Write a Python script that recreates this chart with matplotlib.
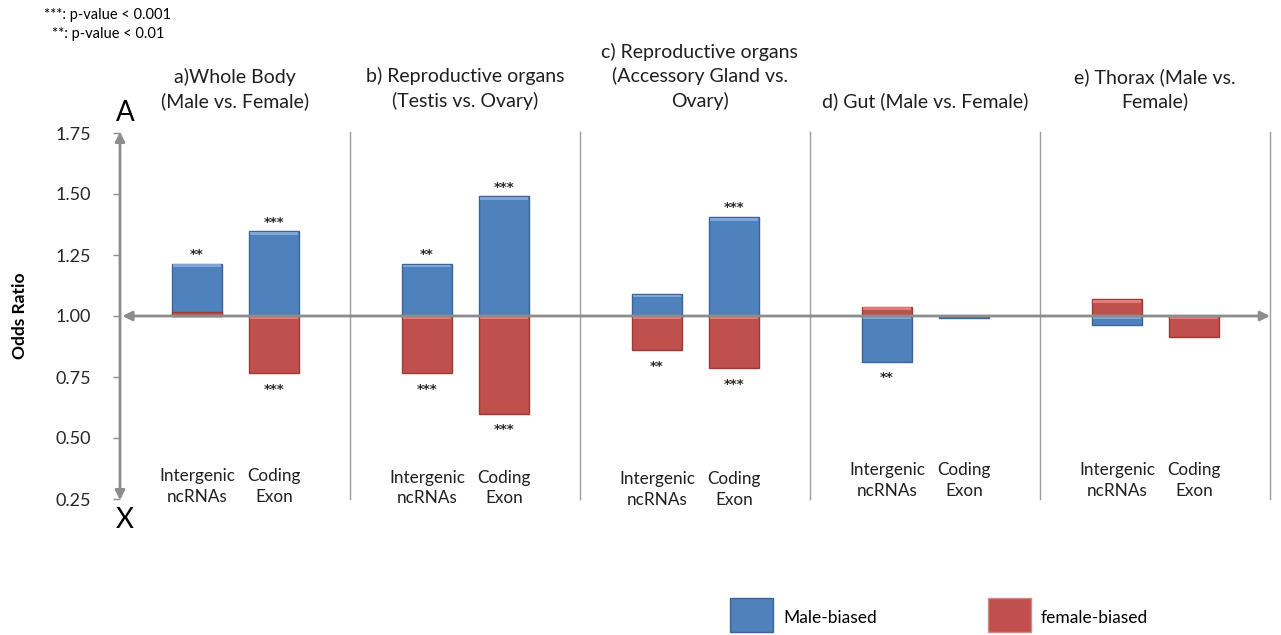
import matplotlib
matplotlib.use("Agg")
import matplotlib.pyplot as plt
from matplotlib.patches import Rectangle

# ---------------- data ----------------
panel_titles = [
    "a)Whole Body\n(Male vs. Female)",
    "b) Reproductive organs\n(Testis vs. Ovary)",
    "c) Reproductive organs\n(Accessory Gland vs.\nOvary)",
    "d) Gut (Male vs. Female)",
    "e) Thorax (Male vs.\nFemale)",
]
categories = ["Intergenic\nncRNAs", "Coding\nExon"]
male_or = [1.215, 1.347, 1.213, 1.490, 1.090, 1.405, 0.813, 0.990, 0.963, 0.990]
female_or = [1.015, 0.767, 0.767, 0.600, 0.860, 0.787, 1.038, 1.000, 1.068, 0.915]
male_sig = ["**", "***", "**", "***", "", "***", "**", "", "", ""]
female_sig = ["", "***", "***", "***", "**", "***", "", "", "", ""]
yticks = [0.25, 0.50, 0.75, 1.00, 1.25, 1.50, 1.75]
ytick_labels = ["0.25", "0.50", "0.75", "1.00", "1.25", "1.50", "1.75"]
legend_labels = ["Male-biased", "female-biased"]

# ---------------- style ----------------
FONT = "Lato"
BLUE = "#4F81BD"
BLUE_EDGE = "#3B6597"
RED = "#C0504D"
RED_EDGE = "#9A3B38"
GRAY = "#8C8C8C"

fig = plt.figure(figsize=(12.81, 6.35), dpi=100)
ax = fig.add_axes([120 / 1281, 1 - 499 / 635, 1150 / 1281, 366 / 635])
ax.set_xlim(0, 5)
ax.set_ylim(0.25, 1.75)
for s in ax.spines.values():
    s.set_visible(False)
ax.set_xticks([])
ax.set_yticks(yticks)
ax.set_yticklabels(ytick_labels, fontsize=13, family=FONT, color="#262626")
ax.tick_params(axis="y", length=5, width=1, color=GRAY, pad=16)
ax.set_ylabel("Odds Ratio", fontsize=12.5, fontweight="bold", family=FONT)
ax.yaxis.set_label_coords(-0.08, 0.5)

offsets = [0.335, 0.67]
width = 0.218
xs = []
for p in range(len(panel_titles)):
    for o in offsets:
        xs.append(p + o)

# bars
ax.bar(xs, [m - 1 for m in male_or], bottom=1, width=width, color=BLUE,
       edgecolor=BLUE_EDGE, linewidth=1, zorder=2)
ax.bar(xs, [f - 1 for f in female_or], bottom=1, width=width, color=RED,
       edgecolor=RED_EDGE, linewidth=1, zorder=3)

# bevel highlight strips
for x, m, f in zip(xs, male_or, female_or):
    for v, col in ((m, "#7FA6D6"), (f, "#E07B78")):
        if abs(v - 1) > 0.03:
            top = max(v, 1)
            ax.add_patch(Rectangle((x - width / 2 + 0.006, top - 0.014), width - 0.012, 0.011,
                                   color=col, zorder=4, lw=0))

# significance stars
def star(x, v, s):
    if not s:
        return
    if v >= 1:
        ax.annotate(s, (x, v), xytext=(0, 2), textcoords="offset points",
                    ha="center", va="bottom", fontsize=9.5, family="DejaVu Sans",
                    fontweight="bold", color="#2A2A2A")
    else:
        ax.annotate(s, (x, v), xytext=(0, -7), textcoords="offset points",
                    ha="center", va="top", fontsize=9.5, family="DejaVu Sans",
                    fontweight="bold", color="#2A2A2A")

for x, m, f, ms, fs in zip(xs, male_or, female_or, male_sig, female_sig):
    star(x, m, ms)
    star(x, f, fs)

# axes lines with arrows
ax.annotate("", xy=(0, 1.755), xytext=(0, 0.245), annotation_clip=False,
            arrowprops=dict(arrowstyle="<|-|>", color=GRAY, lw=2, mutation_scale=14,
                            shrinkA=0, shrinkB=0), zorder=5)
ax.annotate("", xy=(5.0, 1.0), xytext=(0.01, 1.0), annotation_clip=False,
            arrowprops=dict(arrowstyle="<|-|>", color=GRAY, lw=2, mutation_scale=14,
                            shrinkA=0, shrinkB=0), zorder=5)

# panel separators
for p in range(1, len(panel_titles) + 1):
    ax.plot([p, p], [1.755, 0.25], color="#9E9E9E", lw=1, zorder=1, clip_on=False)

# panel titles
for p, t in enumerate(panel_titles):
    ax.text(p + 0.5 + (0.02 if p == 2 else 0), 1.843, t, ha="center", va="bottom",
            fontsize=14, family=FONT, color="#1F1F1F", linespacing=1.45, clip_on=False)

# category labels
label_y = [0.30, 0.295, 0.29, 0.325, 0.325]
for p in range(len(panel_titles)):
    for i, c in enumerate(categories):
        ax.text(p + offsets[i], label_y[p], c, ha="center", va="center", fontsize=12.3,
                family=FONT, color="#1F1F1F", linespacing=1.38, clip_on=False)

# A / X markers
fig.text(125 / 1281, 1 - 113 / 635, "A", fontsize=20, family=FONT, ha="center", va="center")
fig.text(125 / 1281, 1 - 520 / 635, "X", fontsize=20, family=FONT, ha="center", va="center")

# p-value note
fig.text(44 / 1281, 1 - 15 / 635, "***: p-value < 0.001", fontsize=10.5, family=FONT, va="center")
fig.text(52 / 1281, 1 - 34 / 635, "**: p-value < 0.01", fontsize=10.5, family=FONT, va="center")

# legend
for (x0, lab, col, ecol) in ((730, legend_labels[0], BLUE, BLUE_EDGE),
                             (988, legend_labels[1], RED, "#D08A88")):
    fig.patches.append(Rectangle((x0 / 1281, 1 - 632 / 635), 43 / 1281, 34 / 635,
                                 transform=fig.transFigure, facecolor=col, edgecolor=ecol, lw=1))
    fig.text((x0 + 53) / 1281, 1 - 618 / 635, lab, fontsize=12.5, family=FONT, va="center")

fig.savefig("out.png", dpi=100)
